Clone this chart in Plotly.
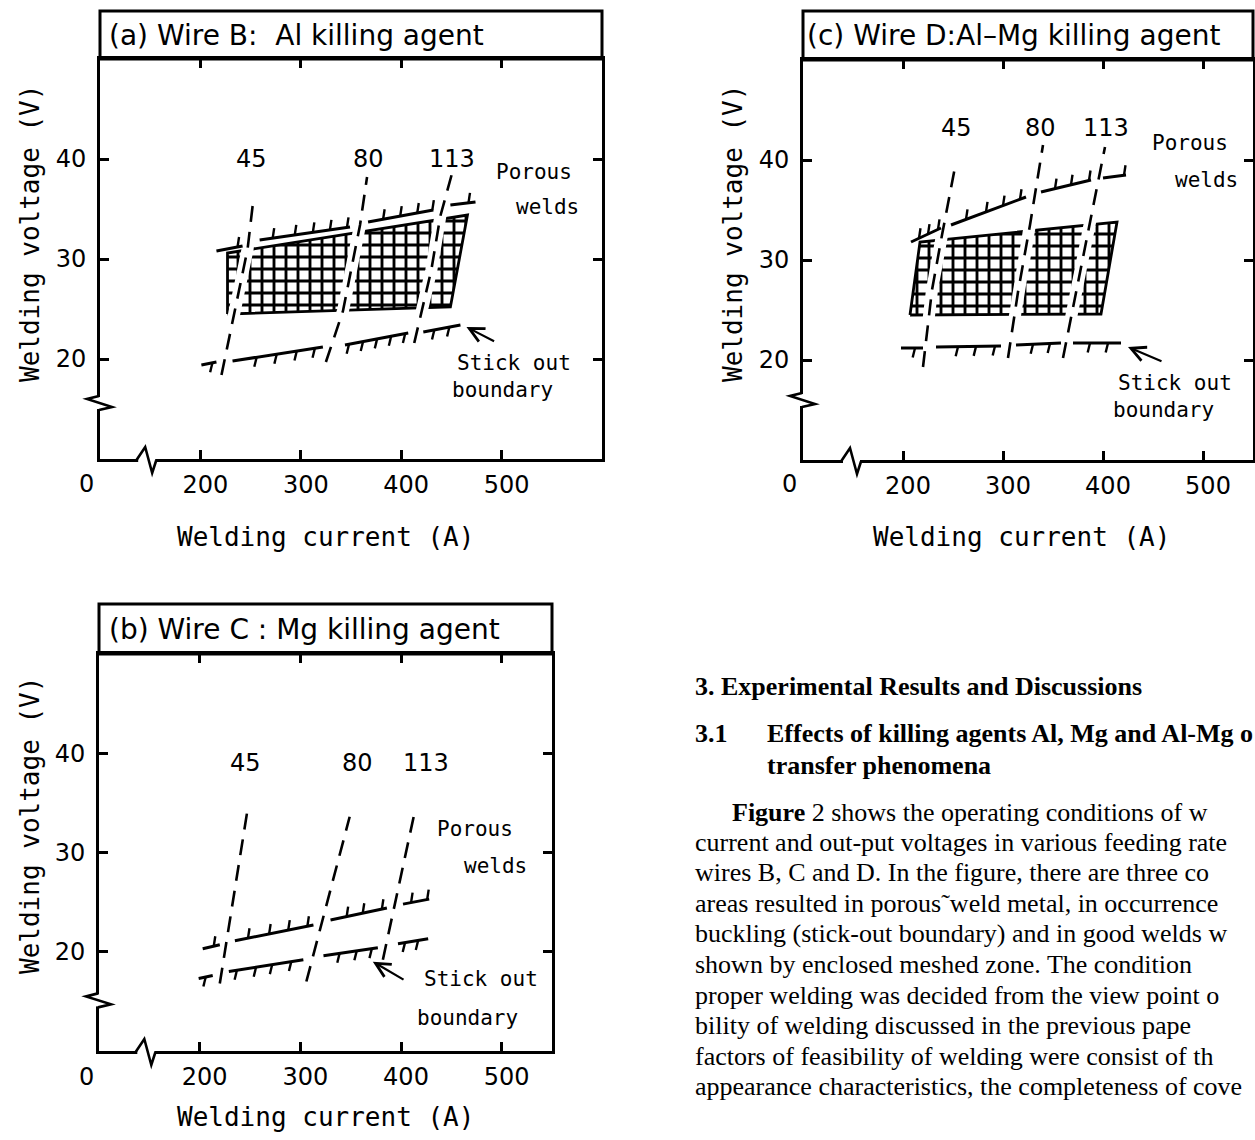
import plotly.graph_objects as go

W, H = 1255, 1140

# ---------------- shared axis values ----------------
x_tick_vals = [200, 300, 400, 500]
y_tick_vals = [20, 30, 40]
feed_rate_labels = ["45", "80", "113"]

# ---------------- (a) Wire B : Al killing agent ----------------
a_feed45_current = [221, 247, 252]
a_feed45_voltage = [18.4, 31.0, 35.3]
a_feed80_current = [325, 342, 359, 366]
a_feed80_voltage = [19.7, 24.8, 33.4, 38.2]
a_feed113_current = [413, 430, 439, 451]
a_feed113_voltage = [21.6, 28.9, 34.3, 38.7]
a_porous_start_current = [216, 259, 367, 449]
a_porous_start_voltage = [30.8, 31.9, 33.7, 35.4]
a_porous_end_current = [242, 349, 432, 474]
a_porous_end_voltage = [31.3, 33.2, 34.9, 35.7]
a_porous_hatch_current = [[237], [272, 294, 312, 329, 346], [382, 399, 416, 431], [467]]
a_stick_start_current = [201, 232, 344, 422]
a_stick_start_voltage = [19.4, 19.8, 21.4, 22.7]
a_stick_end_current = [216, 322, 407, 459]
a_stick_end_voltage = [19.7, 21.2, 22.6, 23.4]
a_stick_hatch_current = [[212], [256, 276, 296, 314], [348, 362, 376, 390, 404], [433, 448]]
a_mesh_current = [227, 227, 466, 449, 227]
a_mesh_voltage = [24.5, 30.6, 34.4, 25.2, 24.5]

# ---------------- (b) Wire C : Mg killing agent ----------------
b_feed45_current = [220, 248]
b_feed45_voltage = [16.8, 34.6]
b_feed80_current = [306, 349]
b_feed80_voltage = [17.0, 33.6]
b_feed113_current = [382, 413]
b_feed113_voltage = [19.2, 33.8]
b_porous_start_current = [203, 235, 330, 402]
b_porous_start_voltage = [20.3, 21.1, 23.2, 24.8]
b_porous_end_current = [220, 313, 386, 428]
b_porous_end_voltage = [20.7, 22.7, 24.4, 25.3]
b_porous_hatch_current = [[214], [248, 269, 288, 307], [346, 362, 381], [410, 426]]
b_stick_start_current = [199, 229, 323, 397]
b_stick_start_voltage = [17.3, 18.0, 19.6, 20.8]
b_stick_end_current = [213, 303, 377, 427]
b_stick_end_voltage = [17.6, 19.2, 20.4, 21.3]
b_stick_hatch_current = [[206], [237, 256, 272, 291], [339, 356, 371], [404, 417]]

# ---------------- (c) Wire D : Al-Mg killing agent ----------------
c_feed45_current = [220, 229, 239, 253]
c_feed45_voltage = [19.3, 27.0, 32.5, 39.8]
c_feed80_current = [305, 315, 327, 340]
c_feed80_voltage = [20.2, 26.8, 33.5, 41.5]
c_feed113_current = [360, 385, 402]
c_feed113_voltage = [20.2, 32.8, 41.3]
c_porous_start_current = [208, 248, 338, 400]
c_porous_start_voltage = [31.8, 33.5, 36.8, 38.2]
c_porous_end_current = [238, 323, 388, 423]
c_porous_end_voltage = [33.2, 36.3, 38.0, 38.5]
c_porous_hatch_current = [[216, 225, 235], [263, 283, 300, 317], [352, 368, 386], [421]]
c_stick_start_current = [198, 233, 313, 370]
c_stick_start_voltage = [21.2, 21.3, 21.5, 21.7]
c_stick_end_current = [220, 298, 358, 418]
c_stick_end_voltage = [21.2, 21.4, 21.7, 21.7]
c_stick_hatch_current = [[212], [255, 273, 292], [330, 347], [387, 405]]
c_mesh_current = [207, 217, 414, 398, 207]
c_mesh_voltage = [24.5, 31.8, 33.8, 24.6, 24.5]

# ---------------- body text ----------------
body_lines = [
    "<b>3. Experimental Results and Discussions</b>",
    "<b>3.1</b>",
    "<b>Effects of killing agents Al, Mg and Al-Mg o</b>",
    "<b>transfer phenomena</b>",
    "<b>Figure</b> 2 shows the operating conditions of w",
    "current and out-put voltages in various feeding rate",
    "wires B, C and D. In the figure, there are three co",
    "areas resulted in porous\u02dcweld metal, in occurrence",
    "buckling (stick-out boundary) and in good welds w",
    "shown by enclosed meshed zone. The condition",
    "proper welding was decided from the view point o",
    "bility of welding discussed in the previous pape",
    "factors of feasibility of welding were consist of th",
    "appearance characteristics, the completeness of cove",
]

# ================= styling / layout =================
SANS = "DejaVu Sans"
MONO = "DejaVu Sans Mono"
SERIF = "Liberation Serif"
INK = "black"


def px(x):
    return x / W


def py(y):
    return 1 - y / H


panels = [
    dict(xa="x", ya="y",
         feeds=[(a_feed45_current, a_feed45_voltage), (a_feed80_current, a_feed80_voltage),
                (a_feed113_current, a_feed113_voltage)],
         porous=(a_porous_start_current, a_porous_start_voltage, a_porous_end_current,
                 a_porous_end_voltage, a_porous_hatch_current),
         stick=(a_stick_start_current, a_stick_start_voltage, a_stick_end_current,
                a_stick_end_voltage, a_stick_hatch_current),
         mesh=(a_mesh_current, a_mesh_voltage),
         xdom=(100, 602), ydom=(59, 459), head_top=11, xmax=600,
         title="(a) Wire B:\u00a0\u00a0Al killing agent", title_pos=(107, 36),
         feed_pos=[(251, 40), (367, 40), (451, 40)],
         porous_pos=[(532.5, 38.7), (545.5, 35.2)],
         stick_pos=[(512, 19.6), (501, 16.9)],
         arrow=((465, 23.2), (494, 21.7)),
         xbreak=146, ybreak=15.6,
         zero_pos=(86, 484), xtitle_pos=(325, 537), ytitle_pos=(30, 234)),
    dict(xa="x2", ya="y2",
         feeds=[(b_feed45_current, b_feed45_voltage), (b_feed80_current, b_feed80_voltage),
                (b_feed113_current, b_feed113_voltage)],
         porous=(b_porous_start_current, b_porous_start_voltage, b_porous_end_current,
                 b_porous_end_voltage, b_porous_hatch_current),
         stick=(b_stick_start_current, b_stick_start_voltage, b_stick_end_current,
                b_stick_end_voltage, b_stick_hatch_current),
         mesh=None,
         xdom=(99, 552), ydom=(654, 1051), head_top=604, xmax=550,
         title="(b) Wire C : Mg killing agent", title_pos=(107, 629),
         feed_pos=[(246, 39), (357, 39), (425, 39)],
         porous_pos=[(474, 32.4), (494, 28.6)],
         stick_pos=[(479, 17.3), (466, 13.3)],
         arrow=((372, 19.0), (404, 17.1)),
         xbreak=146, ybreak=15.1,
         zero_pos=(86, 1077), xtitle_pos=(325, 1117), ytitle_pos=(30, 826)),
    dict(xa="x3", ya="y3",
         feeds=[(c_feed45_current, c_feed45_voltage), (c_feed80_current, c_feed80_voltage),
                (c_feed113_current, c_feed113_voltage)],
         porous=(c_porous_start_current, c_porous_start_voltage, c_porous_end_current,
                 c_porous_end_voltage, c_porous_hatch_current),
         stick=(c_stick_start_current, c_stick_start_voltage, c_stick_end_current,
                c_stick_end_voltage, c_stick_hatch_current),
         mesh=(c_mesh_current, c_mesh_voltage),
         xdom=(803, 1253), ydom=(60, 460), head_top=11, xmax=550,
         title="(c) Wire D:Al\u2013Mg killing agent", title_pos=(805, 36),
         feed_pos=[(253, 43.2), (337, 43.2), (403, 43.2)],
         porous_pos=[(487, 41.7), (503, 38.0)],
         stick_pos=[(472, 17.7), (460, 15.0)],
         arrow=((425, 21.3), (460, 19.8)),
         xbreak=148, ybreak=16.0,
         zero_pos=(789, 484), xtitle_pos=(1021, 537), ytitle_pos=(733, 234)),
]


def segments_xy(i0, v0, i1, v1):
    xs, ys = [], []
    for a, b, c, d in zip(i0, v0, i1, v1):
        xs += [a, c, None]
        ys += [b, d, None]
    return xs, ys


def hatches_xy(i0, v0, i1, v1, hatch, d_i, d_v):
    xs, ys = [], []
    for a, b, c, d, hs in zip(i0, v0, i1, v1, hatch):
        for h in hs:
            base = b + (h - a) / (c - a) * (d - b)
            xs += [h, h + d_i, None]
            ys += [base, base + d_v, None]
    return xs, ys


fig = go.Figure()
shapes, annotations = [], []
layout_axes = {}

for p in panels:
    xa, ya = p["xa"], p["ya"]
    common = dict(xaxis=xa, yaxis=ya, showlegend=False, hoverinfo="skip")

    # good-weld (meshed) zone
    if p["mesh"] is not None:
        fig.add_trace(go.Scatter(
            x=p["mesh"][0], y=p["mesh"][1], mode="lines", fill="toself",
            fillcolor="white",
            fillpattern=dict(shape="+", size=12, solidity=0.42, fgcolor=INK,
                             fgopacity=1, bgcolor="white", fillmode="replace"),
            line=dict(color=INK, width=2.8), **common))

    # white channels along the feed-rate lines (mesh is interrupted there)
    for cur, vol in p["feeds"]:
        fig.add_trace(go.Scatter(x=cur, y=vol, mode="lines",
                                 line=dict(color="white", width=12), **common))

    # porous-weld boundary (hatch up) and stick-out boundary (hatch down)
    i0, v0, i1, v1, hh = p["porous"]
    sx, sy = segments_xy(i0, v0, i1, v1)
    fig.add_trace(go.Scatter(x=sx, y=sy, mode="lines", line=dict(color=INK, width=3), **common))
    hx, hy = hatches_xy(i0, v0, i1, v1, hh, 1.5, 1.0)
    fig.add_trace(go.Scatter(x=hx, y=hy, mode="lines", line=dict(color=INK, width=2.4), **common))

    i0, v0, i1, v1, hh = p["stick"]
    sx, sy = segments_xy(i0, v0, i1, v1)
    fig.add_trace(go.Scatter(x=sx, y=sy, mode="lines", line=dict(color=INK, width=3), **common))
    hx, hy = hatches_xy(i0, v0, i1, v1, hh, -2.3, -0.95)
    fig.add_trace(go.Scatter(x=hx, y=hy, mode="lines", line=dict(color=INK, width=2.4), **common))

    # constant wire-feed-rate lines (dashed)
    for cur, vol in p["feeds"]:
        fig.add_trace(go.Scatter(x=cur, y=vol, mode="lines",
                                 line=dict(color=INK, width=2.6, dash="16px,10px"), **common))

    # axes
    xkey = "xaxis" if xa == "x" else "xaxis" + xa[1:]
    ykey = "yaxis" if ya == "y" else "yaxis" + ya[1:]
    axis_common = dict(showline=True, linewidth=3, linecolor=INK, mirror="ticks",
                       ticks="inside", ticklen=9, tickwidth=2.5, tickcolor=INK,
                       showgrid=False, zeroline=False,
                       tickfont=dict(family=SANS, size=24, color=INK))
    layout_axes[xkey] = dict(domain=[px(p["xdom"][0]), px(p["xdom"][1])], anchor=ya,
                             range=[100, p["xmax"]], tickvals=x_tick_vals,
                             ticklabelstandoff=2, ticklabelshift=5, **axis_common)
    layout_axes[ykey] = dict(domain=[py(p["ydom"][1]), py(p["ydom"][0])], anchor=xa,
                             range=[10, 50], tickvals=y_tick_vals,
                             ticklabelstandoff=6, **axis_common)

    # header box with the panel title
    head_frac = 1 + (p["ydom"][0] - p["head_top"]) / (p["ydom"][1] - p["ydom"][0])
    shapes.append(dict(type="rect", xref=xa + " domain", yref=ya + " domain",
                       x0=0, x1=1, y0=1, y1=head_frac,
                       line=dict(color=INK, width=3), layer="above"))
    annotations.append(dict(text=p["title"], xref="paper", yref="paper",
                            x=px(p["title_pos"][0]), y=py(p["title_pos"][1]),
                            xanchor="left", yanchor="middle", showarrow=False,
                            font=dict(family=SANS, size=28, color=INK)))

    # axis breaks (paper-referenced so they are not clipped by the plot area)
    x_left = px(p["xdom"][0])
    y_bottom = py(p["ydom"][1])
    y_break = y_bottom + (p["ybreak"] - 10) / 40 * (py(p["ydom"][0]) - y_bottom)
    x_break = x_left + (p["xbreak"] - 100) / (p["xmax"] - 100) * (px(p["xdom"][1]) - x_left)
    brk = dict(type="path", xref="paper", yref="paper", xsizemode="pixel",
               ysizemode="pixel", layer="above")
    shapes.append(dict(brk, xanchor=x_left, yanchor=y_break,
                       path="M-5,6 L4,6 L4,-6 L-5,-6 Z", fillcolor="white",
                       line=dict(width=0)))
    shapes.append(dict(brk, xanchor=x_left, yanchor=y_break,
                       path="M-1,7 L-13,4 L12,-4 L-1,-7",
                       line=dict(color=INK, width=2.6)))
    shapes.append(dict(brk, xanchor=x_break, yanchor=y_bottom,
                       path="M-8,-5 L9,-5 L9,4 L-8,4 Z", fillcolor="white",
                       line=dict(width=0)))
    shapes.append(dict(brk, xanchor=x_break, yanchor=y_bottom,
                       path="M-10,-1.5 L-1,12 L6,-14 L10,-1.5",
                       line=dict(color=INK, width=2.6)))

    # origin label and axis titles
    annotations.append(dict(text="0", xref="paper", yref="paper",
                            x=px(p["zero_pos"][0]), y=py(p["zero_pos"][1]),
                            xanchor="center", yanchor="middle",
                            showarrow=False, font=dict(family=SANS, size=24, color=INK)))
    annotations.append(dict(text="Welding current (A)", xref="paper", yref="paper",
                            x=px(p["xtitle_pos"][0]), y=py(p["xtitle_pos"][1]),
                            xanchor="center", yanchor="middle",
                            showarrow=False, font=dict(family=MONO, size=26, color=INK)))
    annotations.append(dict(text="Welding voltage (V)", xref="paper", yref="paper",
                            x=px(p["ytitle_pos"][0]), y=py(p["ytitle_pos"][1]), textangle=-90,
                            xanchor="center", yanchor="middle",
                            showarrow=False, font=dict(family=MONO, size=26, color=INK)))

    # in-plot labels
    for lab, (lx, ly) in zip(feed_rate_labels, p["feed_pos"]):
        annotations.append(dict(text=lab, xref=xa, yref=ya, x=lx, y=ly, showarrow=False,
                                xanchor="center", yanchor="middle",
                                font=dict(family=SANS, size=24, color=INK)))
    for lab, (lx, ly) in zip(["Porous", "welds"], p["porous_pos"]):
        annotations.append(dict(text=lab, xref=xa, yref=ya, x=lx, y=ly, showarrow=False,
                                xanchor="center", yanchor="middle",
                                font=dict(family=MONO, size=21, color=INK)))
    for lab, (lx, ly) in zip(["Stick out", "boundary"], p["stick_pos"]):
        annotations.append(dict(text=lab, xref=xa, yref=ya, x=lx, y=ly, showarrow=False,
                                xanchor="center", yanchor="middle",
                                font=dict(family=MONO, size=21, color=INK)))
    (tx, ty), (sx0, sy0) = p["arrow"]
    annotations.append(dict(text="", xref=xa, yref=ya, x=tx, y=ty, axref=xa, ayref=ya,
                            ax=sx0, ay=sy0, showarrow=True, arrowhead=5, arrowsize=1.3,
                            arrowwidth=2.2, arrowcolor=INK, standoff=0))

# body text (right-bottom)
body_pos = [(693, 686), (693, 733), (765, 733), (765, 765), (730, 812), (693, 842),
            (693, 872), (693, 903), (693, 933), (693, 964), (693, 995), (693, 1025),
            (693, 1056), (693, 1086)]
for txt, (bx, by) in zip(body_lines, body_pos):
    annotations.append(dict(text=txt, xref="paper", yref="paper", x=px(bx), y=py(by),
                            xanchor="left", yanchor="middle", showarrow=False,
                            font=dict(family=SERIF, size=26, color=INK)))

fig.update_layout(
    width=W, height=H, margin=dict(l=0, r=0, t=0, b=0),
    paper_bgcolor="white", plot_bgcolor="white", showlegend=False,
    font=dict(family=SANS, color=INK),
    shapes=shapes, annotations=annotations, **layout_axes,
)

fig.write_html("out.html", config={"displayModeBar": False},
               post_script="document.body.style.margin='0px';document.body.style.overflow='hidden';")
